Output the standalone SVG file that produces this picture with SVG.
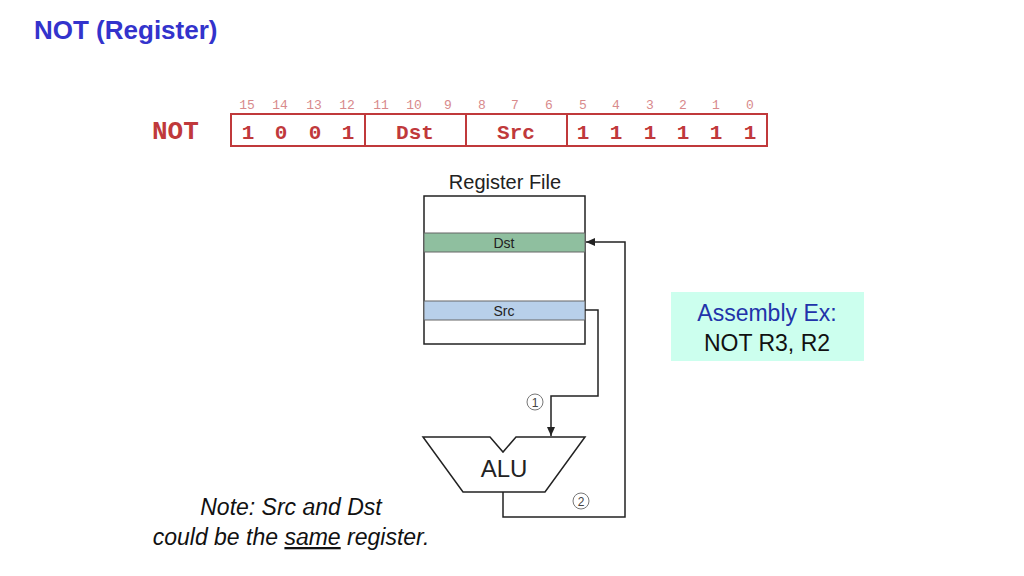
<svg xmlns="http://www.w3.org/2000/svg" width="1024" height="576" viewBox="0 0 1024 576">
<defs><marker id="ah" markerWidth="10" markerHeight="10" refX="9" refY="5" orient="auto" markerUnits="userSpaceOnUse"><path d="M0,1 L9,5 L0,9 Z" fill="#222"/></marker></defs>
<style>
.m{font-family:"Liberation Mono",monospace;fill:#c0393b;font-weight:bold}
.bn{font-family:"Liberation Mono",monospace;fill:#d88a8c;font-size:13px}
.s{font-family:"Liberation Sans",Arial,sans-serif}
.w{stroke:#222;stroke-width:1.5;fill:none}
</style>
<rect width="1024" height="576" fill="#fff"/>
<text x="34" y="39" class="s" font-size="26" font-weight="bold" fill="#3333cc">NOT (Register)</text>
<g id="instr">
<text x="152" y="139" class="m" font-size="26" font-weight="normal">NOT</text>
<rect x="231" y="114" width="536" height="32" fill="none" stroke="#c0393b" stroke-width="2"/>
<path d="M365,114V146M466,114V146M567,114V146" stroke="#c0393b" stroke-width="2"/>
<g class="m" font-size="21" text-anchor="middle">
<text x="248" y="139">1</text><text x="281" y="139">0</text><text x="315" y="139">0</text><text x="348" y="139">1</text>
<text x="415" y="139">Dst</text><text x="516" y="139">Src</text>
<text x="583" y="139">1</text><text x="616" y="139">1</text><text x="650" y="139">1</text><text x="683" y="139">1</text><text x="716" y="139">1</text><text x="750" y="139">1</text>
</g>
<g class="bn" text-anchor="middle">
<text x="247" y="109">15</text><text x="280" y="109">14</text><text x="314" y="109">13</text><text x="347" y="109">12</text><text x="381" y="109">11</text><text x="414" y="109">10</text><text x="448" y="109">9</text><text x="482" y="109">8</text><text x="515" y="109">7</text><text x="549" y="109">6</text><text x="583" y="109">5</text><text x="616" y="109">4</text><text x="650" y="109">3</text><text x="683" y="109">2</text><text x="716" y="109">1</text><text x="750" y="109">0</text>
</g>
</g>
<g id="regfile">
<text x="505" y="189" class="s" font-size="20" text-anchor="middle" fill="#222">Register File</text>
<rect x="424" y="196" width="161" height="148" fill="#fff" stroke="#222" stroke-width="1.5"/>
<rect x="424" y="233" width="161" height="19" fill="#8fbf9f" stroke="#666"/>
<text x="504" y="248" class="s" font-size="14" text-anchor="middle" fill="#222">Dst</text>
<rect x="424" y="301" width="161" height="19" fill="#b8d0ea" stroke="#666"/>
<text x="504" y="316" class="s" font-size="14" text-anchor="middle" fill="#222">Src</text>
</g>
<g id="alu">
<path d="M423,437 L490,437 L503,452 L516,437 L585,437 L545,492 L463,492 Z" fill="#fff" stroke="#222" stroke-width="1.5"/>
<text x="504" y="477" class="s" font-size="24" text-anchor="middle" fill="#222">ALU</text>
</g>
<g id="connectors">
<path class="w" d="M585,310 H598 V396 H551 V436" marker-end="url(#ah)"/>
<path class="w" d="M503,492 V517 H625 V242 H586" marker-end="url(#ah)"/>
<circle cx="535" cy="402" r="8" fill="#fff" stroke="#777"/>
<text x="535" y="407" class="s" font-size="12" text-anchor="middle" fill="#444">1</text>
<circle cx="581" cy="501" r="8" fill="#fff" stroke="#777"/>
<text x="581" y="506" class="s" font-size="12" text-anchor="middle" fill="#444">2</text>
</g>
<g id="asm">
<rect x="671" y="292" width="193" height="69" fill="#ccffee"/>
<text x="767" y="321" class="s" font-size="23" text-anchor="middle" fill="#2233aa">Assembly Ex:</text>
<text x="767" y="351" class="s" font-size="23" text-anchor="middle" fill="#111">NOT R3, R2</text>
</g>
<g id="note" class="s" font-size="23" font-style="italic" fill="#111" text-anchor="middle">
<text x="291" y="515">Note: Src and Dst</text>
<text x="291" y="545">could be the <tspan text-decoration="underline">same</tspan> register.</text>
</g>
</svg>
